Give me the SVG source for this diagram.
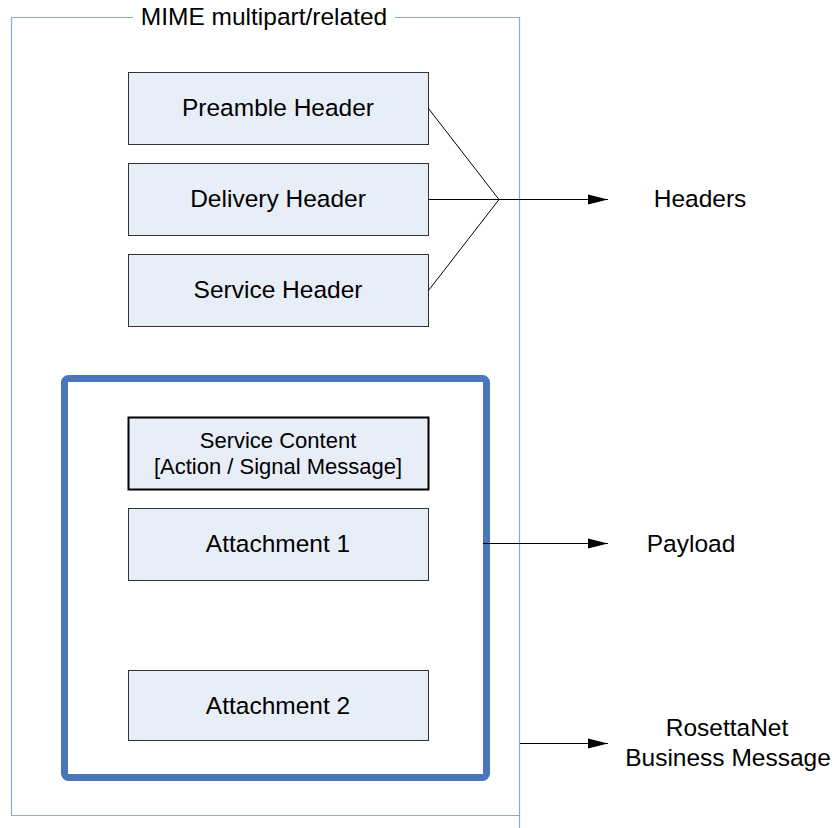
<svg xmlns="http://www.w3.org/2000/svg" width="837" height="828" viewBox="0 0 837 828">
<style>
text{font-family:"Liberation Sans",Arial,sans-serif;fill:#000;text-anchor:middle}
.t{font-size:24.5px}
.s{font-size:22px}
.box{fill:#e8eef8;stroke:#333;stroke-width:1}
.ln{stroke:#000;stroke-width:1;fill:none}
</style>
<defs>
<marker id="ah" markerWidth="20" markerHeight="12" refX="20" refY="6" orient="auto" markerUnits="userSpaceOnUse">
<path d="M0,1 L20,6 L0,11 z" fill="#000"/>
</marker>
</defs>
<g id="mime">
<path d="M133,17.5 H11.5 V815.5 H519.5 V17.5 H395 M519.5,815 V828" fill="none" stroke="#8aa9dc" stroke-width="1.2"/>
<text class="t" x="264" y="25">MIME multipart/related</text>
</g>
<g id="preamble">
<rect class="box" x="128.5" y="72.5" width="300" height="72"/>
<text class="t" x="278" y="116">Preamble Header</text>
</g>
<g id="delivery">
<rect class="box" x="128.5" y="163.5" width="300" height="72"/>
<text class="t" x="278" y="207">Delivery Header</text>
</g>
<g id="service">
<rect class="box" x="128.5" y="254.5" width="300" height="72"/>
<text class="t" x="278" y="298">Service Header</text>
</g>
<g id="payload-box">
<rect x="64.5" y="378.5" width="422" height="399" rx="4" fill="none" stroke="#4a76be" stroke-width="7"/>
</g>
<g id="service-content">
<rect x="128.5" y="417.5" width="300" height="72" fill="#e8eef8" stroke="#000" stroke-width="2"/>
<text class="s" x="278" y="448">Service Content</text>
<text class="s" x="278" y="474">[Action / Signal Message]</text>
</g>
<g id="attachment1">
<rect class="box" x="128.5" y="508.5" width="300" height="72"/>
<text class="t" x="278" y="552">Attachment 1</text>
</g>
<g id="attachment2">
<rect class="box" x="128.5" y="670.5" width="300" height="70"/>
<text class="t" x="278" y="714">Attachment 2</text>
</g>
<g id="labels">
<text class="t" x="700" y="207">Headers</text>
<text class="t" x="691" y="552">Payload</text>
<text class="t" x="727" y="736">RosettaNet</text>
<text class="t" x="728" y="766">Business Message</text>
</g>
<g id="connectors">
<path class="ln" d="M428.5,108.5 L499,199.5 M428.5,199.5 L499,199.5 M428.5,290.5 L499,199.5"/>
<line class="ln" x1="499" y1="199.5" x2="608" y2="199.5" marker-end="url(#ah)"/>
<line class="ln" x1="483" y1="543.5" x2="608" y2="543.5" marker-end="url(#ah)"/>
<line class="ln" x1="520" y1="743.5" x2="608" y2="743.5" marker-end="url(#ah)"/>
</g>
</svg>
